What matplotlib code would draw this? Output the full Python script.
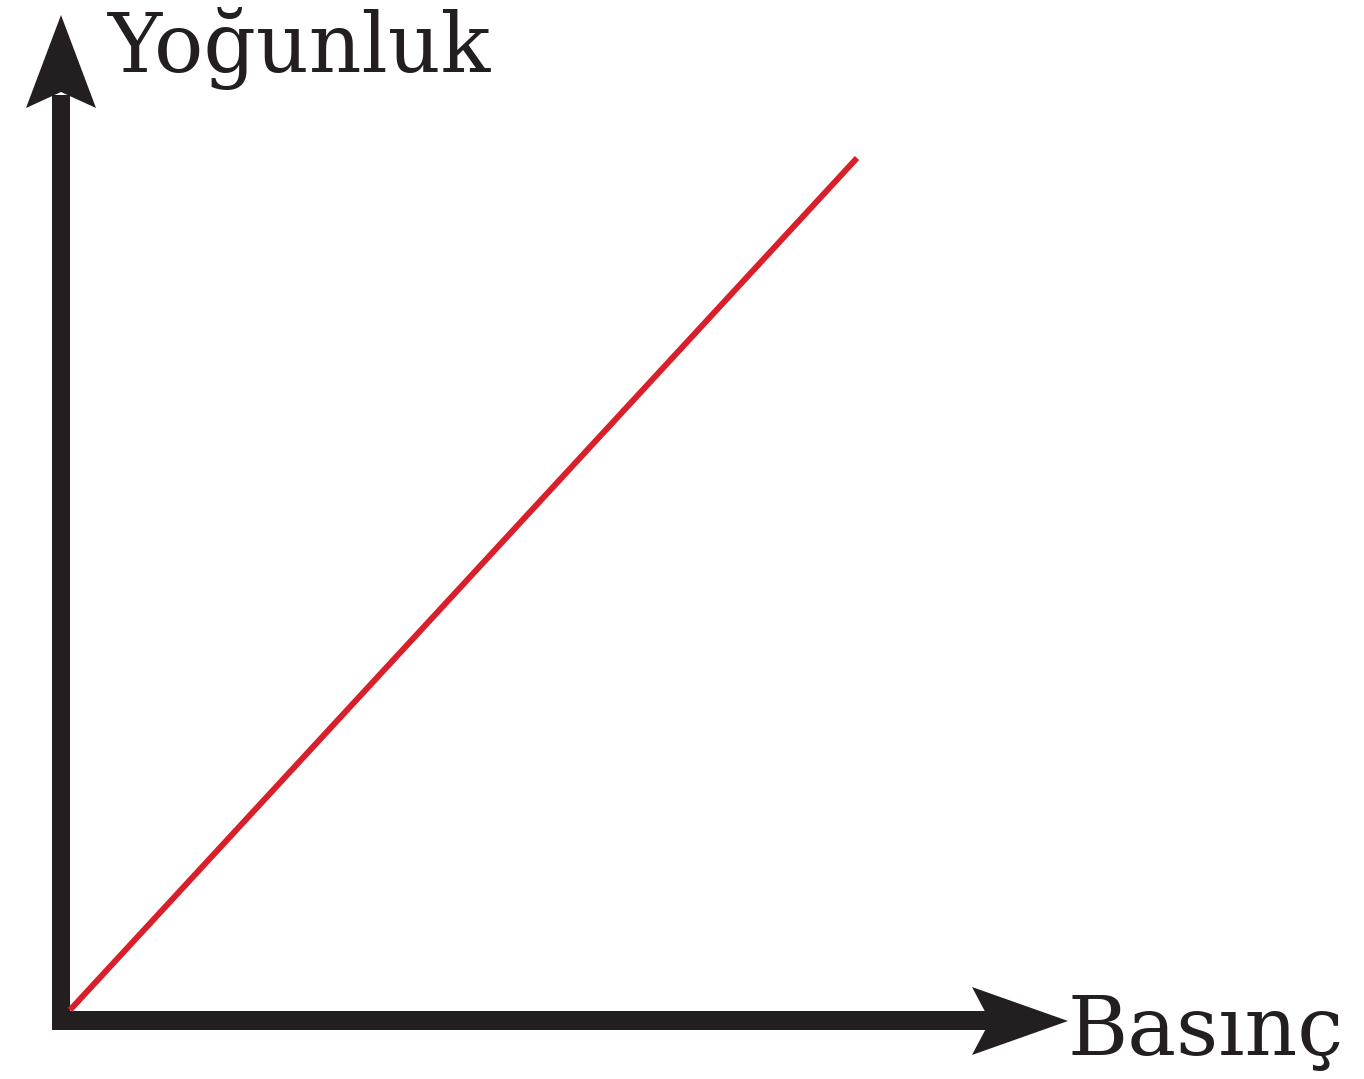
import matplotlib.pyplot as plt
from matplotlib.patches import Polygon, Rectangle

# data: density rises linearly with pressure
basinc = [0, 10]
yogunluk = [0, 10]

W, H = 1364, 1079
siyah = '#231f20'
kirmizi = '#d9202a'

fig = plt.figure(figsize=(W / 100, H / 100), dpi=100)

# decoration layer in pixel coordinates (y down)
deco = fig.add_axes([0, 0, 1, 1])
deco.set_xlim(0, W)
deco.set_ylim(H, 0)
deco.axis('off')

# axis shafts
deco.add_patch(Rectangle((52, 95), 18, 935, color=siyah, lw=0))
deco.add_patch(Rectangle((52, 1011), 950, 19, color=siyah, lw=0))

# swept-back arrow heads
deco.add_patch(Polygon([(61, 15), (96, 108), (61, 92), (26, 108)],
                       closed=True, color=siyah, lw=0))
deco.add_patch(Polygon([(1068, 1021), (972, 1055), (990, 1021), (972, 987)],
                       closed=True, color=siyah, lw=0))

deco.text(108, 72, 'Yoğunluk', family='DejaVu Serif', fontsize=59,
          color=siyah, ha='left', va='baseline')
deco.text(1068, 1055, 'Basınç', family='DejaVu Serif', fontsize=59,
          color=siyah, ha='left', va='baseline')

# data axes: origin at the inner corner of the axes
ax = fig.add_axes([70 / W, (H - 1010) / H, 787 / W, 852 / H])
ax.set_xlim(0, 10)
ax.set_ylim(0, 10)
ax.axis('off')
ax.patch.set_alpha(0)
ax.plot(basinc, yogunluk, color=kirmizi, lw=4.3, solid_capstyle='butt',
        clip_on=False)

fig.savefig('out.png', dpi=100)
